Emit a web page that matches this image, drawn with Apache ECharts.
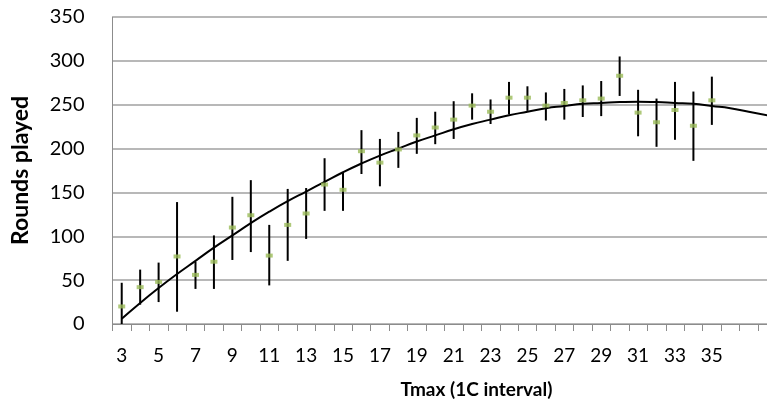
<!DOCTYPE html>
<html>
<head>
<meta charset="utf-8">
<script src="https://cdn.jsdelivr.net/npm/echarts@6/dist/echarts.min.js"></script>
<style>
html,body{margin:0;padding:0;background:#fff;}
#chart{width:767px;height:407px;}
</style>
</head>
<body>
<div id="chart"></div>
<script>
const categories = ['3','4','5','6','7','8','9','10','11','12','13','14','15','16','17','18','19','20','21','22','23','24','25','26','27','28','29','30','31','32','33','34','35','36','37','38'];
const meanValues = [20,42,48,77,56,71,110,124,78,113,126,159,153,197,184,199,215,224,233,249,242,258,258,249,252,255,257,283,241,230,244,226,255,null,null,null];
const errHigh = [47,62,70,139,71,101,145,164,113,154,155,189,173,221,211,219,235,242,254,263,256,276,271,264,268,272,277,305,267,257,276,265,282,null,null,null];
const errLow = [0,22,25,14,40,40,73,82,44,72,97,129,129,171,157,178,194,205,211,233,228,239,243,232,233,236,237,260,214,202,210,186,227,null,null,null];
const trendValues = [6,24,41,57,72,87,101,115,128,140,151,162,173,183,192,200,208,215,222,228,233,238,242,246,248.5,251,252,253,253.5,253,252,251,248.5,246,242,238];
const yTicks = {min:0, max:350, interval:50};

const chart = echarts.init(document.getElementById('chart'));
const FONT = 'Lato, "Open Sans", sans-serif';

const errData = [];
categories.forEach((c,i)=>{ if(errHigh[i]!=null) errData.push([i, errLow[i], errHigh[i]]); });

chart.setOption({
  animation:false,
  grid:{left:112.5, top:17, bottom:83, right:-9.4, containLabel:false, outerBoundsMode:'none'},
  xAxis:{
    type:'category',
    data:categories,
    boundaryGap:true,
    axisLine:{lineStyle:{color:'#8c8c8c', width:1}},
    axisTick:{show:true, interval:0, length:7, lineStyle:{color:'#8c8c8c'}},
    axisLabel:{
      interval:function(idx, val){ return idx % 2 === 0 && Number(val) <= 35; },
      color:'#000', fontFamily:FONT, fontSize:19, margin:22
    },
    name:'Tmax (1C interval)',
    nameLocation:'middle',
    nameGap:56,
    nameTextStyle:{color:'#000', fontFamily:FONT, fontSize:19, fontWeight:'bold', padding:[0,0,0,64]},
    splitLine:{show:false}
  },
  yAxis:{
    type:'value',
    min:yTicks.min, max:yTicks.max, interval:yTicks.interval,
    axisLine:{show:true, lineStyle:{color:'#8c8c8c', width:1}},
    axisTick:{show:false},
    axisLabel:{color:'#000', fontFamily:FONT, fontSize:20, margin:28},
    splitLine:{lineStyle:{color:'#a0a0a0', width:1.5}},
    name:'Rounds played',
    nameLocation:'middle',
    nameGap:80,
    nameTextStyle:{color:'#000', fontFamily:FONT, fontSize:23, fontWeight:'bold'}
  },
  series:[
    {
      type:'custom',
      data:errData,
      encode:{x:0, y:[1,2]},
      z:2,
      clip:true,
      renderItem:function(params, api){
        const x = api.value(0);
        const lo = api.coord([x, api.value(1)]);
        const hi = api.coord([x, api.value(2)]);
        return {
          type:'line',
          shape:{x1:lo[0], y1:lo[1], x2:hi[0], y2:hi[1]},
          style:{stroke:'#000', lineWidth:2}
        };
      }
    },
    {
      type:'line',
      data:trendValues,
      smooth:true,
      showSymbol:false,
      symbol:'none',
      z:3,
      lineStyle:{color:'#000', width:2}
    },
    {
      type:'scatter',
      data:meanValues,
      symbol:'rect',
      symbolSize:[7,4],
      z:4,
      itemStyle:{color:'#9bbb59'}
    }
  ]
});
</script>
</body>
</html>
